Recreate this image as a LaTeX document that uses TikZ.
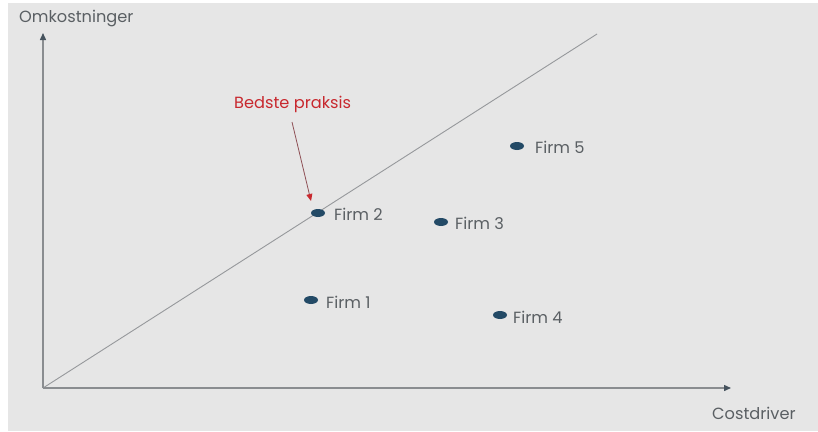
\documentclass[tikz,border=0pt]{standalone}
\usepackage{fontspec}
\setmainfont{Poppins}
\usetikzlibrary{arrows.meta,shapes.geometric}
\definecolor{bg}{HTML}{E6E6E6}
\definecolor{axis}{HTML}{8A8D90}
\definecolor{tip}{HTML}{46535E}
\definecolor{txt}{HTML}{5A5F63}
\definecolor{dot}{HTML}{234A66}
\definecolor{red1}{HTML}{C8282E}
\definecolor{arr}{HTML}{8E4F55}
\tikzset{
  axisline/.style={draw=axis, line width=1.4pt, -{Triangle[length=7pt,width=6pt,color=tip]}},
  firmdot/.style={ellipse, fill=dot, inner sep=0pt, minimum width=14pt, minimum height=8pt},
  lbl/.style={text=txt, font=\fontsize{16.2}{19}\selectfont, inner sep=0pt, anchor=west},
}
\begin{document}
\begin{tikzpicture}[x=1pt,y=-1pt]
\useasboundingbox (0,0) rectangle (818,431);
\fill[white] (0,0) rectangle (818,431);
\fill[bg] (8,3) rectangle (818,431);
\coordinate (O) at (43,388);
\coordinate (Ytop) at (43,33);
\coordinate (Xend) at (731,388);
\coordinate (Dend) at (597,34);
\draw[draw=axis!90, line width=0.9pt] (O) -- (Dend);
\draw[axisline] (O) -- (Ytop);
\draw[axisline] (O) -- (Xend);
\node[lbl] (ylab) at (19,19) {Omkostninger};
\node[lbl] (xlab) at (712,413) {Costdriver};
\node[firmdot] (f1) at (311,300) {};
\node[firmdot] (f2) at (318,213) {};
\node[firmdot] (f3) at (441,222) {};
\node[firmdot] (f4) at (500,315) {};
\node[firmdot] (f5) at (517,146) {};
\node[lbl] (t1) at (326,302) {Firm 1};
\node[lbl] (t2) at (334,214) {Firm 2};
\node[lbl] (t3) at (455,223) {Firm 3};
\node[lbl] (t4) at (513,317) {Firm 4};
\node[lbl] (t5) at (535,147) {Firm 5};
\node[lbl, text=red1] (bp) at (234,104) {Bedste praksis};
\coordinate (bpstart) at (292,122);
\coordinate (bpend) at (311,201);
\draw[draw=arr, line width=0.8pt, -{Triangle[length=7pt,width=6pt,color=red1]}] (bpstart) -- (bpend);
\end{tikzpicture}
\end{document}
